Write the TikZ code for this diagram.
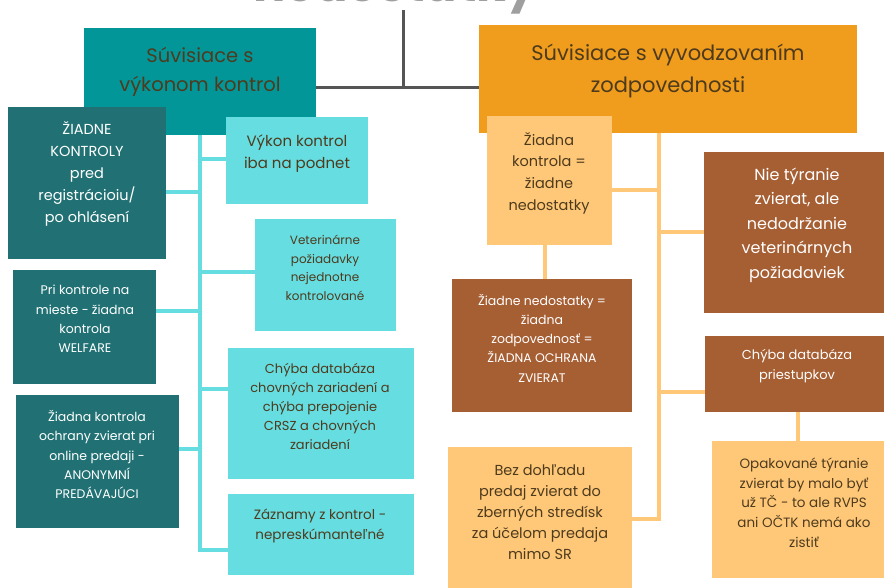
\documentclass[tikz,border=0pt]{standalone}
\usepackage{fontspec}
\setmainfont{Poppins}
\definecolor{tealH}{HTML}{039698}
\definecolor{tealD}{HTML}{217174}
\definecolor{cyanB}{HTML}{66DDE1}
\definecolor{orangeH}{HTML}{F09C1C}
\definecolor{lightO}{HTML}{FFC878}
\definecolor{brownB}{HTML}{A65E33}
\definecolor{txtB}{HTML}{4E3B1E}
\definecolor{grayL}{HTML}{555555}
\newcommand{\fs}[2]{\fontsize{#1}{#2}\selectfont}
\tikzset{
  box/.style={fill=#1, draw=none, inner sep=0pt, anchor=north west},
  txt/.style={align=center, inner sep=0pt, text=txtB},
  wtxt/.style={align=center, inner sep=0pt, text=white},
  cl/.style={draw=cyanB, line width=3.2pt},
  ol/.style={draw=lightO, line width=3.2pt},
  gl/.style={draw=grayL, line width=3pt},
}
\begin{document}
\begin{tikzpicture}[x=1pt,y=-1pt]
\useasboundingbox (0,0) rectangle (884,588);
% title (cut off)
\node[anchor=base, text=gray!75, font=\fs{48}{52}\bfseries, inner sep=0pt] (title) at (395,1.5) {nedostatky};
\coordinate (gtop) at (403,10);
\coordinate (gbend) at (403,88);
% headers
\node[box=tealH, minimum width=232, minimum height=107] (hL) at (84,28) {};
\node[box=orangeH, minimum width=378, minimum height=108] (hR) at (479,25) {};
\node[txt, font=\fs{19.5}{29}] (hLt) at (200,72) {Súvisiace s\\výkonom kontrol};
\node[txt, font=\fs{21}{32}] (hRt) at (668,71) {Súvisiace s vyvodzovaním\\zodpovednosti};
\draw[gl] (gtop) -- (gbend);
\draw[gl] (hL.east |- gbend) -- (hR.west |- gbend);
% spines
\coordinate (sL) at (200,0);
\coordinate (sR) at (659,0);
\draw[cl] (hL.south -| sL) -- (sL |- 0,550);
\draw[ol] (hR.south -| sR) -- (sR |- 0,519);
% left boxes
\node[box=tealD, minimum width=158, minimum height=152] (A) at (8,107) {};
\node[box=tealD, minimum width=143, minimum height=114] (B) at (13,270) {};
\node[box=tealD, minimum width=163, minimum height=133] (C) at (16,395) {};
\node[box=cyanB, minimum width=142, minimum height=87] (D) at (226,117) {};
\node[box=cyanB, minimum width=141, minimum height=112] (E) at (255,219) {};
\node[box=cyanB, minimum width=186, minimum height=131] (F) at (228,348) {};
\node[box=cyanB, minimum width=186, minimum height=81] (G) at (228,494) {};
\draw[cl] (A.east |- 0,192) -- (sL |- 0,192);
\draw[cl] (sL |- 0,159) -- (D.west |- 0,159);
\draw[cl] (sL |- 0,272) -- (E.west |- 0,272);
\draw[cl] (B.east |- 0,311) -- (sL |- 0,311);
\draw[cl] (sL |- 0,389) -- (F.west |- 0,389);
\draw[cl] (C.east |- 0,449) -- (sL |- 0,449);
\draw[cl] ([xshift=-1.6pt]sL |- 0,550) -- (G.west |- 0,550);
\node[wtxt, font=\fs{14.5}{22}] (At) at (87,174) {ŽIADNE\\KONTROLY\\pred\\registrácioiu/\\po ohlásení};
\node[wtxt, font=\fs{12.5}{19.3}] (Bt) at (85,319) {Pri kontrole na\\mieste - žiadna\\kontrola\\WELFARE};
\node[wtxt, font=\fs{12.5}{19.3}] (Ct) at (97,454.5) {Žiadna kontrola\\ochrany zvierat pri\\online predaji -\\ANONYMNÍ\\PREDÁVAJÚCI};
\node[txt, font=\fs{15}{22}] (Dt) at (297,154) {Výkon kontrol\\iba na podnet};
\node[txt, font=\fs{12}{18.7}] (Et) at (325,268) {Veterinárne\\požiadavky\\nejednotne\\kontrolované};
\node[txt, font=\fs{13}{18.8}] (Ft) at (320,406.5) {Chýba databáza\\chovných zariadení a\\chýba prepojenie\\CRSZ a chovných\\zariadení};
\node[txt, font=\fs{13.5}{20}] (Gt) at (320,526) {Záznamy z kontrol -\\nepreskúmanteľné};
% right side
\node[box=lightO, minimum width=125, minimum height=129] (H) at (487,116) {};
\node[box=brownB, minimum width=180, minimum height=161] (I) at (704,152) {};
\node[box=brownB, minimum width=180, minimum height=133] (J) at (452,279) {};
\node[box=brownB, minimum width=179, minimum height=76] (K) at (705,336) {};
\node[box=lightO, minimum width=184, minimum height=141] (L) at (448,447) {};
\node[box=lightO, minimum width=172, minimum height=137] (M) at (712,441) {};
\draw[ol] (H.east |- 0,190) -- (sR |- 0,190);
\draw[ol] (sR |- 0,232) -- (I.west |- 0,232);
\draw[ol] (sR |- 0,392) -- (K.west |- 0,392);
\draw[ol] (L.east |- 0,519) -- ([xshift=1.6pt]sR |- 0,519);
\draw[ol] (H.south -| 545,0) -- (J.north -| 545,0);
\draw[ol] (K.south -| 798,0) -- (M.north -| 798,0);
\node[txt, font=\fs{14.5}{21.7}] (Ht) at (549,173) {Žiadna\\kontrola =\\žiadne\\nedostatky};
\node[wtxt, font=\fs{16}{24.5}] (It) at (797,225) {Nie týranie\\zvierat, ale\\nedodržanie\\veterinárnych\\požiadaviek};
\node[wtxt, font=\fs{12.5}{19.2}] (Jt) at (542,338) {Žiadne nedostatky =\\žiadna\\zodpovednosť =\\ŽIADNA OCHRANA\\ZVIERAT};
\node[wtxt, font=\fs{13}{19.7}] (Kt) at (797,366) {Chýba databáza\\priestupkov};
\node[txt, font=\fs{14.5}{21}] (Lt) at (540,512) {Bez dohľadu\\predaj zvierat do\\zberných stredísk\\za účelom predaja\\mimo SR};
\node[txt, font=\fs{13.5}{19.7}] (Mt) at (804,502.5) {Opakované týranie\\zvierat by malo byť\\už TČ - to ale RVPS\\ani OČTK nemá ako\\zistiť};
\end{tikzpicture}
\end{document}
